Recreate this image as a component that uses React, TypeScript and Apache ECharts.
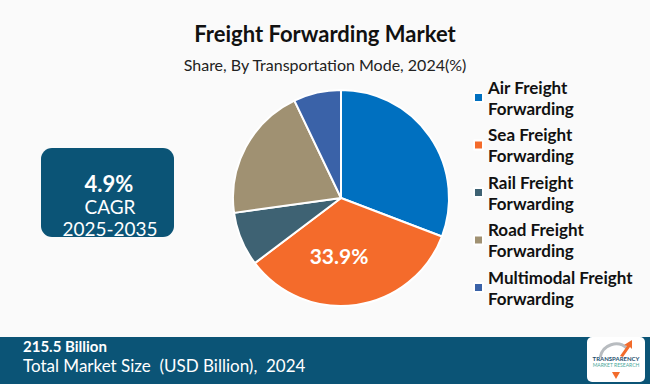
import React, { useEffect, useRef } from "react";
import * as echarts from "echarts";

const categories = [
  "Air Freight Forwarding",
  "Sea Freight Forwarding",
  "Rail Freight Forwarding",
  "Road Freight Forwarding",
  "Multimodal Freight Forwarding",
];
const shares = [30.8, 33.9, 8.1, 20.1, 7.1];
const colors = ["#0070c0", "#f46b2b", "#3e6273", "#a09172", "#3a62a8"];
const labelledIndex = 1;

const titleText = "Freight Forwarding Market";
const subtitleText = "Share, By Transportation Mode, 2024(%)";
const cagrValue = "4.9%";
const cagrLabel = "CAGR";
const cagrPeriod = "2025-2035";
const marketSize = "215.5 Billion";
const marketSizeLabel = "Total Market Size  (USD Billion),  2024";

const BAND = "#0b5476";

export default function App() {
  const ref = useRef<HTMLDivElement>(null);
  useEffect(() => {
    if (!ref.current) return;
    const chart = echarts.init(ref.current, null, { renderer: "svg" });
    const legendNames: Record<string, string> = {};
    categories.forEach((c) => {
      const parts = c.split(" ");
      const last = parts.pop();
      legendNames[c] = parts.join(" ") + "\n" + last;
    });
    chart.setOption({
      animation: false,
      backgroundColor: "#fafafa",
      title: [
        {
          text: titleText,
          left: "center",
          top: 17,
          textStyle: { fontFamily: "Lato", fontWeight: "bold", fontSize: 22, color: "#111" },
        },
        {
          text: subtitleText,
          left: "center",
          top: 51,
          textStyle: { fontFamily: "Lato", fontWeight: "normal", fontSize: 16, color: "#222" },
        },
      ],
      legend: {
        orient: "vertical",
        left: 468,
        top: 61,
        icon: "rect",
        itemWidth: 9,
        itemHeight: 9,
        itemGap: -15.5,
        data: categories,
        formatter: (n: string) => legendNames[n],
        textStyle: {
          fontFamily: "Lato",
          fontWeight: "bold",
          fontSize: 17,
          lineHeight: 21,
          color: "#111",
          padding: [21, 0, 0, 0],
        },
      },
      series: [
        {
          type: "pie",
          center: [341, 198],
          radius: [0, 108],
          startAngle: 90,
          clockwise: true,
          silent: true,
          itemStyle: { borderColor: "#fff", borderWidth: 2 },
          label: { show: false },
          labelLine: { show: false },
          data: categories.map((c, i) => ({
            name: c,
            value: shares[i],
            itemStyle: { color: colors[i] },
            label:
              i === labelledIndex
                ? {
                    show: true,
                    position: "inside",
                    formatter: (p: any) => p.value.toFixed(1) + "%",
                    color: "#fff",
                    fontFamily: "Lato",
                    fontWeight: "bold",
                    fontSize: 21,
                    offset: [-10, 1],
                  }
                : { show: false },
          })),
        },
      ],
      graphic: [
        {
          type: "rect",
          shape: { x: 41, y: 148, width: 133, height: 89, r: 11 },
          style: { fill: BAND },
        },
        {
          type: "text",
          x: 109,
          y: 183,
          style: { text: cagrValue, fill: "#fff", font: "bold 22px Lato", align: "center", verticalAlign: "middle" },
        },
        {
          type: "text",
          x: 110,
          y: 206,
          style: { text: cagrLabel, fill: "#fff", font: "19px Lato", align: "center", verticalAlign: "middle" },
        },
        {
          type: "text",
          x: 110,
          y: 228,
          style: { text: cagrPeriod, fill: "#fff", font: "19px Lato", align: "center", verticalAlign: "middle" },
        },
        {
          type: "rect",
          shape: { x: 0, y: 337, width: 650, height: 47 },
          style: { fill: BAND },
        },
        {
          type: "text",
          x: 23,
          y: 346,
          style: { text: marketSize, fill: "#fff", font: "bold 15px Lato", verticalAlign: "middle" },
        },
        {
          type: "text",
          x: 23,
          y: 365,
          style: { text: marketSizeLabel, fill: "#fff", font: "17px Lato", verticalAlign: "middle" },
        },
        {
          type: "rect",
          shape: { x: 587, y: 337, width: 58, height: 45, r: 5 },
          style: { fill: "#fff" },
        },
        {
          type: "arc",
          shape: { cx: 616, cy: 360, r: 16, startAngle: Math.PI * 1.05, endAngle: Math.PI * 1.75 },
          style: { stroke: "#b8bcc0", lineWidth: 3, fill: "none" },
        },
        {
          type: "polygon",
          shape: { points: [[620, 356], [627, 346], [624, 345], [632, 340], [632, 349], [630, 347], [623, 357]] },
          style: { fill: "#f26b2b" },
        },
        {
          type: "text",
          x: 616,
          y: 358,
          style: { text: "TRANSPARENCY", fill: "#1d4e6e", font: "bold 6px Lato", align: "center", verticalAlign: "middle" },
        },
        {
          type: "text",
          x: 616,
          y: 365,
          style: { text: "MARKET RESEARCH", fill: "#4aa89a", font: "5px Lato", align: "center", verticalAlign: "middle" },
        },
        {
          type: "polygon",
          shape: { points: [[612, 372], [620, 372], [616, 379]] },
          style: { fill: "#f26b2b" },
        },
      ],
    });
    return () => chart.dispose();
  }, []);
  return (
    <div
      ref={ref}
      style={{ position: "absolute", left: 0, top: 0, width: 650, height: 384 }}
    />
  );
}
